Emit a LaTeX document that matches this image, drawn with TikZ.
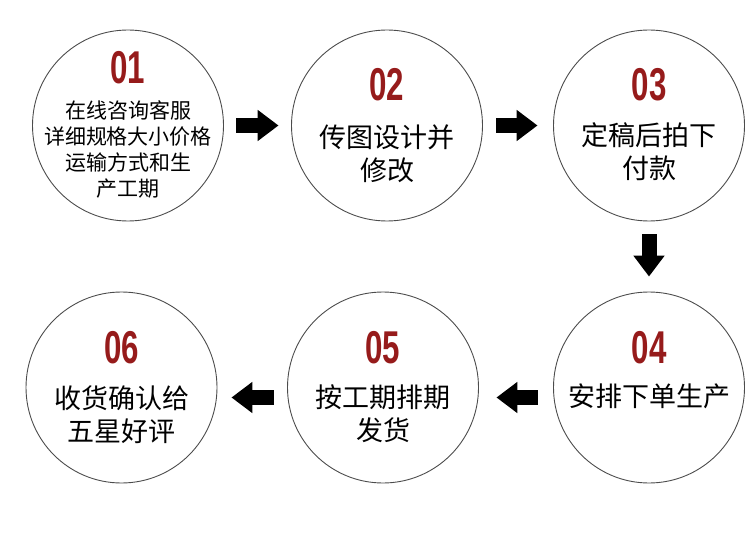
\documentclass[tikz,border=0pt]{standalone}
\usepackage{fontspec}
\usepackage{tikz}
\usetikzlibrary{arrows.meta,positioning}
\setmainfont{Noto Sans CJK SC}
\newfontfamily\numfont[FakeStretch=0.68]{Liberation Sans}
\definecolor{numred}{RGB}{150,27,27}

\begin{document}
\begin{tikzpicture}[x=1pt,y=1pt,
    >={Triangle[length=21pt,width=30pt]}]
  \tikzstyle{stage}=[circle,draw=black!70,line width=0.9pt,minimum size=191pt,inner sep=0pt]
  \tikzstyle{num}=[font=\numfont\bfseries\fontsize{46}{46}\selectfont,text=numred]
  \tikzstyle{txt}=[font=\fontsize{27}{33}\selectfont,align=center]
  \tikzstyle{flow}=[->,line width=15pt]

  \useasboundingbox (0,0) rectangle (750,542);

  \node[stage] (s1) at (128,416.5) {};
  \node[stage] (s2) [right of=s1,node distance=259pt] {};
  \node[stage] (s3) [right of=s2,node distance=262pt] {};
  \node[stage] (s4) [below of=s3,node distance=262pt] {};
  \node[stage] (s5) [left of=s4,node distance=266pt] {};
  \node[stage] (s6) [left of=s5,node distance=261.5pt] {};

  \node[num] at ([yshift=57.5pt]s1) {01};
  \node[num] at ([yshift=40.5pt]s2) {02};
  \node[num] at ([yshift=40.5pt]s3) {03};
  \node[num] at ([yshift=39.5pt]s4) {04};
  \node[num] at ([yshift=39.5pt]s5) {05};
  \node[num] at ([yshift=39.5pt]s6) {06};

  \node[txt,font=\fontsize{21}{26}\selectfont] at ([yshift=-24pt]s1)
    {在线咨询客服\\详细规格大小价格\\运输方式和生\\产工期};
  \node[txt] at ([yshift=-28pt]s2) {传图设计并\\修改};
  \node[txt] at ([yshift=-26pt]s3) {定稿后拍下\\付款};
  \node[txt] at ([yshift=-8.5pt]s4) {安排下单生产};
  \node[txt] at ([yshift=-26pt]s5) {按工期排期\\发货};
  \node[txt] at ([yshift=-27pt]s6) {收货确认给\\五星好评};

  \draw[flow,shorten <=12.5pt,shorten >=12.5pt] (s1) -- (s2);
  \draw[flow,shorten <=13.5pt,shorten >=15.5pt] (s2) -- (s3);
  \draw[flow,shorten <=13pt,shorten >=15pt] (s3) -- (s4);
  \draw[flow,shorten <=15.5pt,shorten >=17.5pt] ([yshift=-10pt]s4.west) -- ([yshift=-10pt]s5.east);
  \draw[flow,shorten <=13.5pt,shorten >=14pt] ([yshift=-10pt]s5.west) -- ([yshift=-10pt]s6.east);
\end{tikzpicture}
\end{document}
